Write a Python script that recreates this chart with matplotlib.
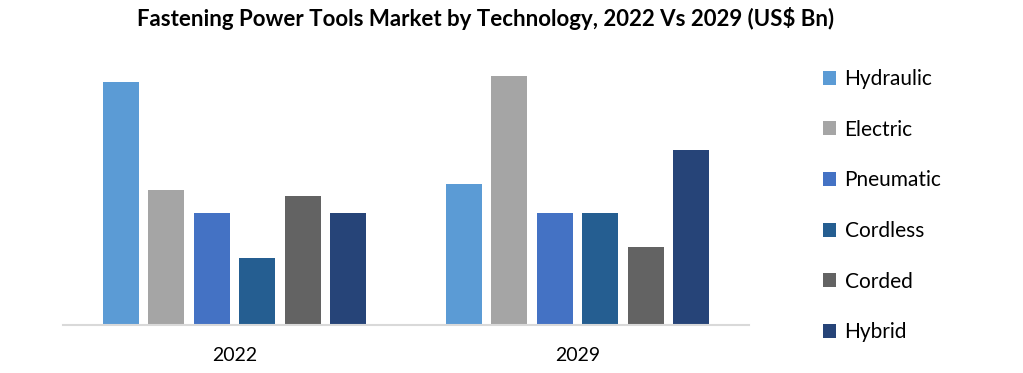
import matplotlib.pyplot as plt
import numpy as np
from matplotlib.patches import Patch

# data (US$ Bn)
years = ['2022', '2029']
techs = ['Hydraulic', 'Electric', 'Pneumatic', 'Cordless', 'Corded', 'Hybrid']
hydraulic = [2.43, 1.41]
electric = [1.35, 2.49]
pneumatic = [1.12, 1.12]
cordless = [0.67, 1.12]
corded = [1.29, 0.78]
hybrid = [1.12, 1.75]
series = [hydraulic, electric, pneumatic, cordless, corded, hybrid]
colors = ['#5B9BD5', '#A5A5A5', '#4472C4', '#255E91', '#636363', '#264478']

plt.rcParams['font.family'] = ['Lato', 'DejaVu Sans']

fig = plt.figure(figsize=(10.23, 3.73), dpi=100)
ax = fig.add_axes([63 / 1023, 48 / 373, 686 / 1023, 265 / 373])

x = np.arange(len(years))
step = 0.1327
width = 0.105
for i, (vals, c) in enumerate(zip(series, colors)):
    ax.bar(x + (i - 2.5) * step, vals, width, color=c, label=techs[i])

ax.set_xlim(-0.5, 1.5)
ax.set_ylim(0, 2.65)
ax.set_yticks([])
ax.set_xticks(x)
ax.set_xticklabels(years, fontsize=14)
ax.tick_params(axis='x', length=0, pad=16)
for s in ['top', 'right', 'left']:
    ax.spines[s].set_visible(False)
ax.spines['bottom'].set_color('#D9D9D9')
ax.spines['bottom'].set_linewidth(1.5)

fig.suptitle('Fastening Power Tools Market by Technology, 2022 Vs 2029 (US$ Bn)',
             fontsize=16, fontweight='bold', x=486 / 1023, y=0.98)

handles = [Patch(facecolor=c) for c in colors]
fig.legend(handles, techs, loc='upper left', bbox_to_anchor=(804 / 1023, 0.865),
           frameon=False, fontsize=15, handlelength=0.65, handleheight=0.65,
           handletextpad=0.4, labelspacing=1.47)

fig.savefig('out.png', dpi=100)
